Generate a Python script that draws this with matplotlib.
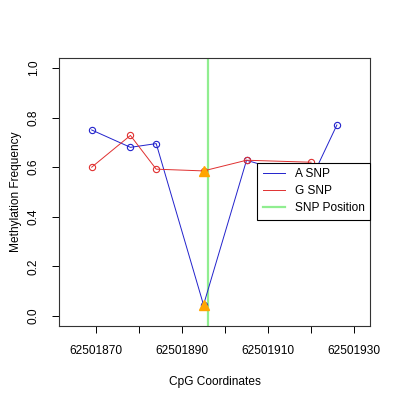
import matplotlib
matplotlib.use("Agg")
import matplotlib.pyplot as plt

plt.rcParams['font.family'] = ['Liberation Sans', 'DejaVu Sans']

# CpG positions and methylation values
a_pos = [62501869, 62501878, 62501884, 62501895, 62501905, 62501920, 62501926]
a_meth = [0.75, 0.68, 0.695, 0.045, 0.628, 0.55, 0.77]
g_pos = [62501869, 62501878, 62501884, 62501895, 62501905, 62501920]
g_meth = [0.60, 0.728, 0.592, 0.585, 0.628, 0.62]
snp_pos = 62501896
snp_idx = 3  # CpG that sits on the SNP
xticks = [62501870, 62501880, 62501890, 62501900, 62501910, 62501920, 62501930]
xlabels = ["62501870", "", "62501890", "", "62501910", "", "62501930"]
yticks = [0.0, 0.2, 0.4, 0.6, 0.8, 1.0]

fig = plt.figure(figsize=(4, 4), dpi=100)
ax = fig.add_axes([0.1475, 0.185, 0.7775, 0.67])

ax.axvline(snp_pos, color="#90EE90", lw=1.6, zorder=1, label="SNP Position")
ax.plot(a_pos, a_meth, color="#2222CC", lw=0.7, zorder=2, label="A SNP")
ax.plot(a_pos, a_meth, ls="none", marker="o", ms=4.5, mfc="none", mec="#2222CC", mew=0.8, zorder=2)
ax.plot(g_pos, g_meth, color="#E03030", lw=0.7, zorder=3, label="G SNP")
ax.plot(g_pos, g_meth, ls="none", marker="o", ms=4.5, mfc="none", mec="#E03030", mew=0.8, zorder=3)
ax.plot([a_pos[snp_idx], g_pos[snp_idx]], [a_meth[snp_idx], g_meth[snp_idx]], ls="none",
        marker="^", ms=7, color="orange", zorder=4)

ax.set_xlim(62501861.4, 62501933.7)
ax.set_ylim(-0.04, 1.04)
ax.set_xticks(xticks)
ax.set_xticklabels(xlabels, fontsize=8.6)
ax.set_yticks(yticks)
ax.set_yticklabels(["%.1f" % v for v in yticks], fontsize=8.6, rotation=90, va="center")
ax.tick_params(direction="out", length=5, width=0.7, pad=9)
for s in ax.spines.values():
    s.set_linewidth(0.8)
    s.set_color("#333333")

ax.set_xlabel("CpG Coordinates", fontsize=8.6, labelpad=13)
ax.set_ylabel("Methylation Frequency", fontsize=8.6, labelpad=4)

handles, labels = ax.get_legend_handles_labels()
order = [1, 2, 0]
leg = ax.legend([handles[i] for i in order], [labels[i] for i in order],
                loc="upper right", bbox_to_anchor=(1.0, 0.608), fontsize=8.6,
                frameon=True, fancybox=False, borderpad=0.45, handlelength=1.85,
                handletextpad=0.85, borderaxespad=0, labelspacing=0.42, framealpha=1)
leg.get_frame().set_edgecolor("black")
leg.get_frame().set_linewidth(0.8)
leg.set_zorder(5)

fig.savefig("out.png", dpi=100)
